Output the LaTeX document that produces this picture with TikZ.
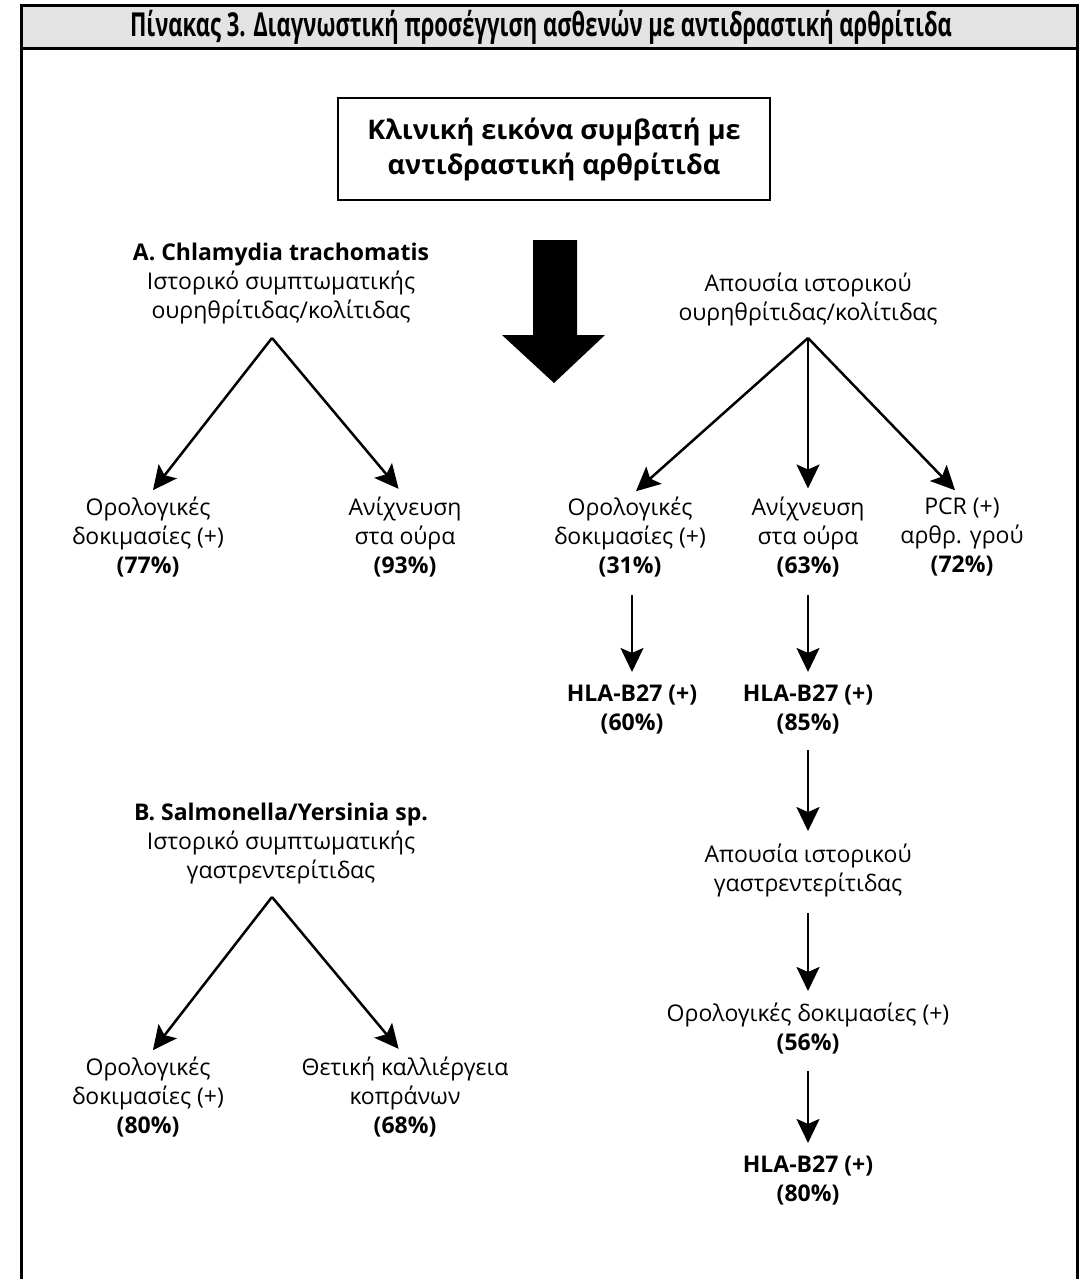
\documentclass[tikz,border=0pt]{standalone}
\usepackage{fontspec}
\setmainfont{Open Sans}
\newfontfamily\titlefont{Open Sans}
\usetikzlibrary{arrows.meta}
\begin{document}
\begin{tikzpicture}[x=0.5pt,y=-0.5pt,
  txt/.style={inner sep=0pt,align=center,font=\fontsize{11.5}{14.5}\selectfont},
  arr/.style={line width=1.25pt,-{Stealth[length=12pt,width=11.5pt,inset=2.5pt]}},
  framestyle/.style={line width=1.5pt}]
\useasboundingbox (0,0) rectangle (1087,1279);
% frame and title band
\filldraw[framestyle,fill=black!11] (21,6) rectangle (1077,49);
\draw[framestyle] (21,49) -- (21,1285);
\draw[framestyle] (1077,49) -- (1077,1285);
\node[inner sep=0pt] (title) at (541,27.5) {\resizebox{411pt}{\height}{\titlefont\bfseries\fontsize{16.5}{18}\selectfont Πίνακας 3. Διαγνωστική προσέγγιση ασθενών με αντιδραστική αρθρίτιδα}};
% central box
\node[draw,line width=1.25pt,minimum width=216pt,minimum height=51pt,align=center,
  font=\fontsize{13.5}{17.5}\selectfont\bfseries] (clin) at (554,149)
  {Κλινική εικόνα συμβατή με\\αντιδραστική αρθρίτιδα};
% big arrow
\fill (533,240) -- (577,240) -- (577,335) -- (605,335) -- (554,383) -- (502,335) -- (533,335) -- cycle;
% section A
\node[txt] (chlA) at (281,284) {\textbf{A. Chlamydia trachomatis}\\Ιστορικό συμπτωματικής\\ουρηθρίτιδας/κολίτιδας};
\coordinate (apexL) at (272,338);
\node[txt] (oroA) at (148,537) {Ορολογικές\\δοκιμασίες (+)\\\textbf{(77\%)}};
\node[txt] (anixA) at (405,537) {Ανίχνευση\\στα ούρα\\\textbf{(93\%)}};
\draw[arr,shorten >=4pt] (apexL) -- (oroA.north);
\draw[arr,shorten >=5pt] (apexL) -- (anixA.north);
% right branch
\node[txt] (apousA) at (808,299) {Απουσία ιστορικού\\ουρηθρίτιδας/κολίτιδας};
\coordinate (apexR) at (808,338);
\node[txt] (oroR) at (630,537) {Ορολογικές\\δοκιμασίες (+)\\\textbf{(31\%)}};
\node[txt] (anixR) at (808,537) {Ανίχνευση\\στα ούρα\\\textbf{(63\%)}};
\node[txt] (pcr) at (962,537) {PCR (+)\\αρθρ. γρού\\\textbf{(72\%)}};
\draw[arr,shorten >=4pt] (apexR) -- (oroR.north);
\draw[arr,shorten >=4pt] (apexR) -- (anixR.north);
\draw[arr,shorten >=5pt] (apexR) -- (pcr.north);
\node[txt,font=\fontsize{11.5}{14.5}\selectfont\bfseries] (hla1) at (632,709) {HLA-B27 (+)\\(60\%)};
\node[txt,font=\fontsize{11.5}{14.5}\selectfont\bfseries] (hla2) at (808,709) {HLA-B27 (+)\\(85\%)};
\draw[arr,shorten <=9pt,shorten >=6pt] (hla1.north |- oroR.south) -- (hla1.north);
\draw[arr,shorten <=9pt,shorten >=6pt] (anixR.south) -- (hla2.north);
\node[txt] (apous2) at (808,870) {Απουσία ιστορικού\\γαστρεντερίτιδας};
\draw[arr,shorten <=8pt,shorten >=6pt] (hla2.south) -- (apous2.north);
\node[txt] (oro3) at (808,1029) {Ορολογικές δοκιμασίες (+)\\\textbf{(56\%)}};
\draw[arr,shorten <=8pt,shorten >=6pt] (apous2.south) -- (oro3.north);
\node[txt,font=\fontsize{11.5}{14.5}\selectfont\bfseries] (hla3) at (808,1180) {HLA-B27 (+)\\(80\%)};
\draw[arr,shorten <=8pt,shorten >=6pt] (oro3.south) -- (hla3.north);
% section B
\node[txt] (salB) at (281,844) {\textbf{B. Salmonella/Yersinia sp.}\\Ιστορικό συμπτωματικής\\γαστρεντερίτιδας};
\coordinate (apexB) at (272,897);
\node[txt] (oroB) at (148,1097) {Ορολογικές\\δοκιμασίες (+)\\\textbf{(80\%)}};
\node[txt] (cultB) at (405,1097) {Θετική καλλιέργεια\\κοπράνων\\\textbf{(68\%)}};
\draw[arr,shorten >=4pt] (apexB) -- (oroB.north);
\draw[arr,shorten >=5pt] (apexB) -- (cultB.north);
\end{tikzpicture}
\end{document}
